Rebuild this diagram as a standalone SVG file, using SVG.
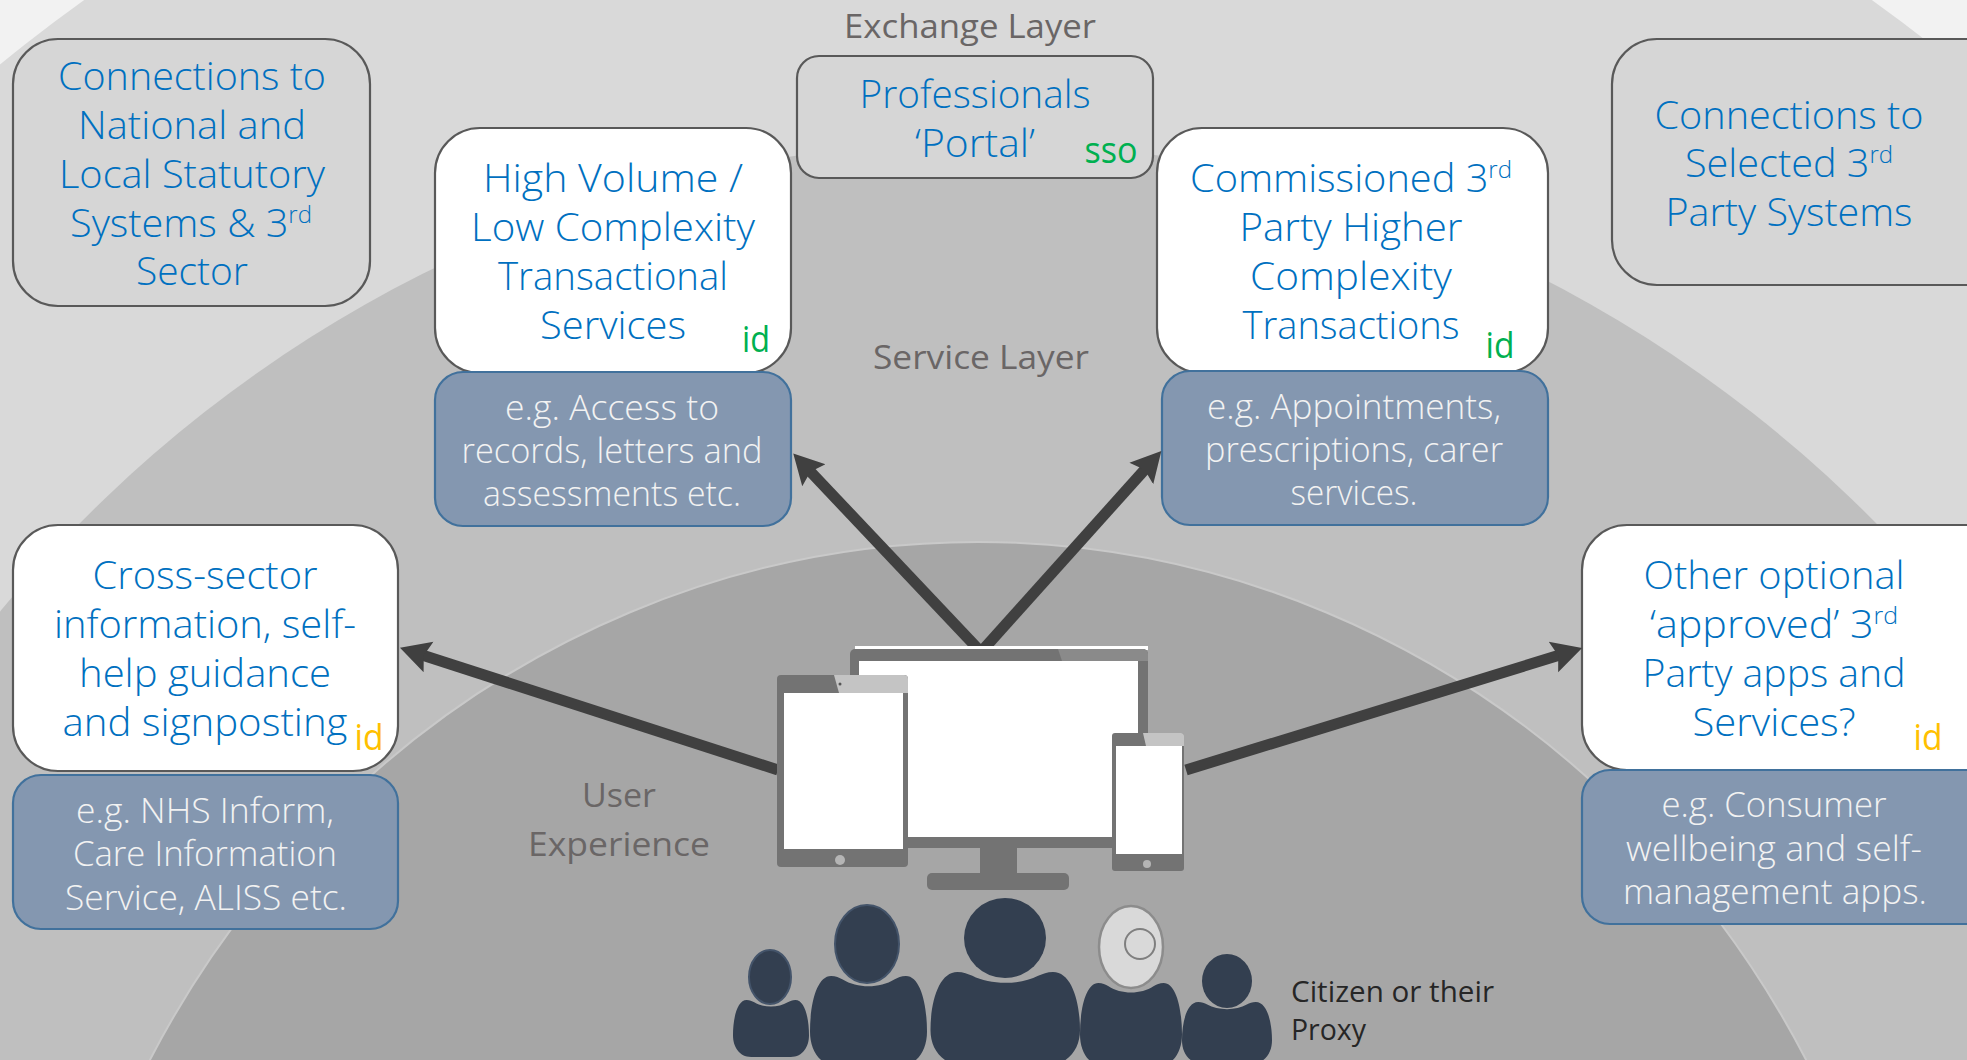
<svg xmlns="http://www.w3.org/2000/svg" xmlns:xlink="http://www.w3.org/1999/xlink" width="1967" height="1060" viewBox="0 0 1967 1060">
<style>
text{font-family:"Open Sans","Noto Sans","Liberation Sans",sans-serif;font-weight:300;text-anchor:middle}
.t{font-size:38px;fill:#0070c0}
.e{font-size:34px;fill:#f2f2f2}
.l{font-size:33px;fill:#6a6666;font-weight:400}
.g{font-size:36px;fill:#00b050;font-weight:400}
.y{font-size:36px;fill:#ffc000;font-weight:400}
.c{font-size:30px;fill:#262626;text-anchor:start;font-weight:400}
.sup{font-size:23px}
.gr{fill:#d6d6d6;stroke:#595959;stroke-width:2.2}
.wh{fill:#fff;stroke:#595959;stroke-width:2.2}
.bl{fill:#8497b0;stroke:#41719c;stroke-width:2.2}
.arrow{stroke:#404040;stroke-width:11;fill:none;marker-end:url(#ah)}
.dev{fill:#737373}
.lite{fill:#c4c4c4}
.scr{fill:#fff}
.p{fill:#333f50}
</style>
<defs>
<marker id="ah" markerUnits="userSpaceOnUse" markerWidth="36" markerHeight="36" refX="10" refY="18" orient="auto"><path d="M0 2L30 18L0 34L5 18Z" fill="#404040"/></marker>
<path id="body" d="M0 62C0 30 6 0 18 0C22 0 25 2 28 4C40 14 60 14 72 4C75 2 78 0 82 0C94 0 100 30 100 62C100 82 92 100 76 100L24 100C8 100 0 82 0 62Z"/>
</defs>

<g id="layers">
<rect width="1967" height="1060" fill="#f2f2f2"/>
<ellipse cx="978" cy="1410" rx="1600" ry="1700" fill="#d9d9d9"/>
<ellipse cx="978" cy="1518" rx="1300" ry="1376" fill="#bfbfbf"/>
<ellipse cx="978" cy="1542" rx="945" ry="1000" fill="#a6a6a6" stroke="#c9c9c9" stroke-width="2"/>
</g>

<g id="layer-labels">
<text class="l" x="970" y="38" textLength="252" lengthAdjust="spacingAndGlyphs">Exchange Layer</text>
<text class="l" x="981" y="369" textLength="216" lengthAdjust="spacingAndGlyphs">Service Layer</text>
<text class="l" x="619" y="807" textLength="74" lengthAdjust="spacingAndGlyphs">User</text>
<text class="l" x="619" y="856" textLength="182" lengthAdjust="spacingAndGlyphs">Experience</text>
</g>

<g id="node-connections-national">
<rect class="gr" x="13" y="39" width="357" height="267" rx="45"/>
<text class="t" x="192" y="90" textLength="268" lengthAdjust="spacingAndGlyphs">Connections to</text>
<text class="t" x="192" y="139" textLength="228" lengthAdjust="spacingAndGlyphs">National and</text>
<text class="t" x="192" y="188" textLength="266" lengthAdjust="spacingAndGlyphs">Local Statutory</text>
<text class="t" x="191" y="237" textLength="242" lengthAdjust="spacingAndGlyphs">Systems &amp; 3<tspan class="sup" dy="-14">rd</tspan></text>
<text class="t" x="192" y="285" textLength="112" lengthAdjust="spacingAndGlyphs">Sector</text>
</g>

<g id="node-portal">
<rect class="gr" x="797" y="56" width="356" height="122" rx="22"/>
<text class="t" x="975" y="108" textLength="231" lengthAdjust="spacingAndGlyphs">Professionals</text>
<text class="t" x="975" y="157" textLength="120" lengthAdjust="spacingAndGlyphs">‘Portal’</text>
<text class="g" x="1111" y="163" textLength="53" lengthAdjust="spacingAndGlyphs">sso</text>
</g>

<g id="node-high-volume">
<rect class="wh" x="435" y="128" width="356" height="245" rx="45"/>
<text class="t" x="613" y="192" textLength="260" lengthAdjust="spacingAndGlyphs">High Volume /</text>
<text class="t" x="613" y="241" textLength="284" lengthAdjust="spacingAndGlyphs">Low Complexity</text>
<text class="t" x="613" y="290" textLength="230" lengthAdjust="spacingAndGlyphs">Transactional</text>
<text class="t" x="613" y="339" textLength="146" lengthAdjust="spacingAndGlyphs">Services</text>
<text class="g" x="756" y="352" textLength="28" lengthAdjust="spacingAndGlyphs">id</text>
</g>
<g id="node-high-volume-examples">
<rect class="bl" x="435" y="372" width="356" height="154" rx="28"/>
<text class="e" x="612" y="420" textLength="214" lengthAdjust="spacingAndGlyphs">e.g. Access to</text>
<text class="e" x="612" y="463" textLength="301" lengthAdjust="spacingAndGlyphs">records, letters and</text>
<text class="e" x="612" y="506" textLength="258" lengthAdjust="spacingAndGlyphs">assessments etc.</text>
</g>

<g id="node-commissioned">
<rect class="wh" x="1157" y="128" width="391" height="245" rx="45"/>
<text class="t" x="1351" y="192" textLength="322" lengthAdjust="spacingAndGlyphs">Commissioned 3<tspan class="sup" dy="-14">rd</tspan></text>
<text class="t" x="1351" y="241" textLength="223" lengthAdjust="spacingAndGlyphs">Party Higher</text>
<text class="t" x="1351" y="290" textLength="202" lengthAdjust="spacingAndGlyphs">Complexity</text>
<text class="t" x="1351" y="339" textLength="217" lengthAdjust="spacingAndGlyphs">Transactions</text>
<text class="g" x="1500" y="358" textLength="29" lengthAdjust="spacingAndGlyphs">id</text>
</g>
<g id="node-commissioned-examples">
<rect class="bl" x="1162" y="371" width="386" height="154" rx="28"/>
<text class="e" x="1354" y="419" textLength="294" lengthAdjust="spacingAndGlyphs">e.g. Appointments,</text>
<text class="e" x="1354" y="462" textLength="298" lengthAdjust="spacingAndGlyphs">prescriptions, carer</text>
<text class="e" x="1354" y="505" textLength="127" lengthAdjust="spacingAndGlyphs">services.</text>
</g>

<g id="node-connections-selected">
<rect class="gr" x="1612" y="39" width="400" height="246" rx="45"/>
<text class="t" x="1789" y="129" textLength="269" lengthAdjust="spacingAndGlyphs">Connections to</text>
<text class="t" x="1789" y="177" textLength="208" lengthAdjust="spacingAndGlyphs">Selected 3<tspan class="sup" dy="-14">rd</tspan></text>
<text class="t" x="1789" y="226" textLength="247" lengthAdjust="spacingAndGlyphs">Party Systems</text>
</g>

<g id="node-cross-sector">
<rect class="wh" x="13" y="525" width="385" height="246" rx="45"/>
<text class="t" x="205" y="589" textLength="225" lengthAdjust="spacingAndGlyphs">Cross-sector</text>
<text class="t" x="205" y="638" textLength="302" lengthAdjust="spacingAndGlyphs">information, self-</text>
<text class="t" x="205" y="687" textLength="252" lengthAdjust="spacingAndGlyphs">help guidance</text>
<text class="t" x="205" y="736" textLength="285" lengthAdjust="spacingAndGlyphs">and signposting</text>
<text class="y" x="369" y="750" textLength="29" lengthAdjust="spacingAndGlyphs">id</text>
</g>
<g id="node-cross-sector-examples">
<rect class="bl" x="13" y="775" width="385" height="154" rx="28"/>
<text class="e" x="205" y="823" textLength="258" lengthAdjust="spacingAndGlyphs">e.g. NHS Inform,</text>
<text class="e" x="205" y="866" textLength="264" lengthAdjust="spacingAndGlyphs">Care Information</text>
<text class="e" x="206" y="910" textLength="282" lengthAdjust="spacingAndGlyphs">Service, ALISS etc.</text>
</g>

<g id="node-other-apps">
<rect class="wh" x="1582" y="525" width="430" height="245" rx="45"/>
<text class="t" x="1774" y="589" textLength="261" lengthAdjust="spacingAndGlyphs">Other optional</text>
<text class="t" x="1774" y="638" textLength="248" lengthAdjust="spacingAndGlyphs">‘approved’ 3<tspan class="sup" dy="-14">rd</tspan></text>
<text class="t" x="1774" y="687" textLength="263" lengthAdjust="spacingAndGlyphs">Party apps and</text>
<text class="t" x="1774" y="736" textLength="163" lengthAdjust="spacingAndGlyphs">Services?</text>
<text class="y" x="1928" y="750" textLength="29" lengthAdjust="spacingAndGlyphs">id</text>
</g>
<g id="node-other-apps-examples">
<rect class="bl" x="1582" y="770" width="430" height="154" rx="28"/>
<text class="e" x="1774" y="817" textLength="225" lengthAdjust="spacingAndGlyphs">e.g. Consumer</text>
<text class="e" x="1774" y="861" textLength="296" lengthAdjust="spacingAndGlyphs">wellbeing and self-</text>
<text class="e" x="1775" y="904" textLength="304" lengthAdjust="spacingAndGlyphs">management apps.</text>
</g>

<g id="connectors">
<line class="arrow" x1="778" y1="770" x2="419" y2="654"/>
<line class="arrow" x1="981" y1="652" x2="807" y2="468"/>
<line class="arrow" x1="981" y1="652" x2="1148" y2="466"/>
<line class="arrow" x1="1186" y1="770" x2="1563" y2="654"/>
</g>

<g id="node-devices">
<rect x="855" y="646" width="293" height="4" fill="#fff"/>
<rect x="850" y="649" width="298" height="199" rx="5" fill="#737373"/>
<path d="M1058 649H1143a5 5 0 0 1 5 5V661H1062Z" fill="#8a8a8a"/>
<rect class="scr" x="859" y="661" width="279" height="176"/>
<rect class="dev" x="980" y="848" width="37" height="26"/>
<rect class="dev" x="927" y="873" width="142" height="17" rx="5"/>
<rect class="dev" x="777" y="675" width="131" height="192" rx="4"/>
<path class="lite" d="M834 675H904a4 4 0 0 1 4 4V693H839Z"/>
<rect class="scr" x="784" y="693" width="119" height="156"/>
<circle cx="840" cy="860" r="5" fill="#b5b5b5"/>
<circle cx="840" cy="684" r="1.5" fill="#555"/>
<rect class="dev" x="1112" y="733" width="72" height="138" rx="3"/>
<path class="lite" d="M1143 733H1181a3 3 0 0 1 3 3V746H1146Z"/>
<rect class="scr" x="1116" y="746" width="66" height="108"/>
<circle cx="1147" cy="864" r="4" fill="#b5b5b5"/>
</g>

<g id="node-citizens">
<use xlink:href="#body" class="p" transform="translate(733 1000) scale(.76 .57)"/>
<ellipse class="p" cx="770" cy="977" rx="21" ry="27" stroke="#44546a" stroke-width="2"/>
<use xlink:href="#body" class="p" transform="translate(810 976) scale(1.17 .9)"/>
<ellipse class="p" cx="867" cy="944" rx="32" ry="39" stroke="#44546a" stroke-width="2"/>
<use xlink:href="#body" class="p" transform="translate(930.5 972) scale(1.495 .94)"/>
<ellipse class="p" cx="1005" cy="938" rx="41" ry="40"/>
<use xlink:href="#body" class="p" transform="translate(1080 983) scale(1.02 .83)"/>
<ellipse cx="1131" cy="947" rx="32" ry="41" fill="#d9d9d9" stroke="#8c8c8c" stroke-width="2.5"/>
<circle cx="1140" cy="944" r="15" fill="#d9d9d9" stroke="#7f7f7f" stroke-width="2"/>
<use xlink:href="#body" class="p" transform="translate(1182 1002) scale(.9 .62)"/>
<ellipse class="p" cx="1227" cy="981" rx="25" ry="27"/>
<text class="c" x="1291" y="1002" textLength="203" lengthAdjust="spacingAndGlyphs">Citizen or their</text>
<text class="c" x="1291" y="1040" textLength="75" lengthAdjust="spacingAndGlyphs">Proxy</text>
</g>
</svg>
